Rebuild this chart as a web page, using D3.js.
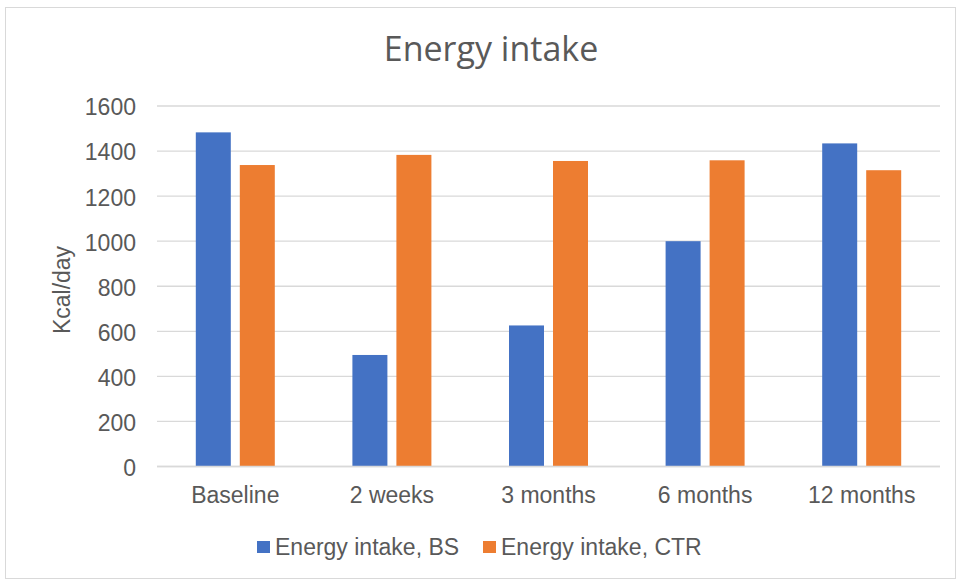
<!DOCTYPE html>
<html><head><meta charset="utf-8">
<script src="https://cdn.jsdelivr.net/npm/d3@7"></script>
<style>body{margin:0;background:#fff;}svg{display:block;}</style>
</head><body>
<svg id="c" width="957" height="581"></svg>
<script>
const categories = ["Baseline", "2 weeks", "3 months", "6 months", "12 months"];
const seriesBS = [1483, 495, 626, 1000, 1434];
const seriesCTR = [1338, 1383, 1356, 1359, 1315];
const seriesNames = ["Energy intake, BS", "Energy intake, CTR"];
const yTicks = [0, 200, 400, 600, 800, 1000, 1200, 1400, 1600];
const colors = ["#4472C4", "#ED7D31"];

(function () {
const svg = d3.select("#c");
svg.append("rect").attr("x", 5.5).attr("y", 7.5).attr("width", 950).attr("height", 571)
  .attr("fill", "#fff").attr("stroke", "#d9d9d9");

const pLeft = 157, pRight = 940, pTop = 106, pBottom = 466.5;
const x = d3.scaleBand().domain(categories).range([pLeft, pRight]);
const y = d3.scaleLinear().domain([0, 1600]).range([pBottom, pTop]);
const font = "Liberation Sans, Arial, sans-serif";

svg.append("g").selectAll("line").data(yTicks).join("line")
  .attr("x1", pLeft).attr("x2", pRight)
  .attr("y1", d => y(d)).attr("y2", d => y(d))
  .attr("stroke", "#d9d9d9").attr("stroke-width", 1.3);

const yAxis = d3.axisLeft(y).tickValues(yTicks).tickFormat(d3.format("d")).tickSize(0).tickPadding(0);
const gy = svg.append("g").attr("transform", `translate(136,1.5)`).call(yAxis);
gy.select(".domain").remove();
gy.selectAll("text").attr("font-family", font)
  .attr("font-size", 23).attr("fill", "#595959");

const xAxis = d3.axisBottom(x).tickSize(0).tickPadding(0);
const gx = svg.append("g").attr("transform", `translate(0,${pBottom})`).call(xAxis);
gx.select(".domain").remove();
gx.selectAll("text").attr("font-family", font).attr("dy", null).attr("y", 36.5)
  .attr("font-size", 23).attr("fill", "#595959");

const barW = 35, gap = 9;
const data = categories.map((c, i) => ({c, v: [seriesBS[i], seriesCTR[i]]}));
[0, 1].forEach(s => {
  svg.append("g").selectAll("rect").data(data).join("rect")
    .attr("x", d => x(d.c) + x.bandwidth() / 2 - (barW + gap / 2) + s * (barW + gap))
    .attr("y", d => y(d.v[s]))
    .attr("width", barW)
    .attr("height", d => pBottom - y(d.v[s]))
    .attr("fill", colors[s]);
});

svg.append("line").attr("x1", pLeft).attr("x2", pRight).attr("y1", pBottom).attr("y2", pBottom)
  .attr("stroke", "#d9d9d9").attr("stroke-width", 1.3);

svg.append("text").attr("x", 491).attr("y", 61).attr("text-anchor", "middle")
  .attr("font-family", "Open Sans, sans-serif").attr("font-size", 34)
  .attr("fill", "#595959").text("Energy intake");

svg.append("text").attr("transform", "translate(70,290) rotate(-90)")
  .attr("text-anchor", "middle").attr("font-family", font)
  .attr("font-size", 23).attr("fill", "#595959").text("Kcal/day");

const legX = [257, 483];
seriesNames.forEach((n, i) => {
  svg.append("rect").attr("x", legX[i]).attr("y", 541).attr("width", 13).attr("height", 12).attr("fill", colors[i]);
  svg.append("text").attr("x", legX[i] + 18).attr("y", 555)
    .attr("font-family", font).attr("font-size", 23)
    .attr("fill", "#595959").text(n);
});
})();
</script>
</body></html>
